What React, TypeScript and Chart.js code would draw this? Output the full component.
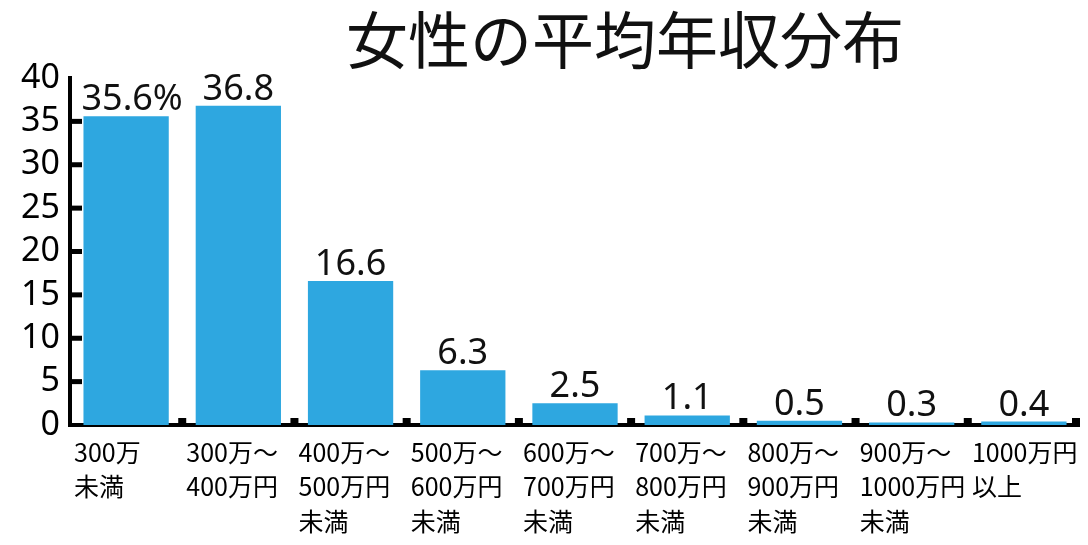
import React, { useEffect, useRef } from 'react';
import { Chart, registerables } from 'chart.js';

Chart.register(...registerables);

const title = '女性の平均年収分布';

const categories: string[][] = [
  ['300万', '未満'],
  ['300万～', '400万円'],
  ['400万～', '500万円', '未満'],
  ['500万～', '600万円', '未満'],
  ['600万～', '700万円', '未満'],
  ['700万～', '800万円', '未満'],
  ['800万～', '900万円', '未満'],
  ['900万～', '1000万円', '未満'],
  ['1000万円', '以上'],
];

const shares = [35.6, 36.8, 16.6, 6.3, 2.5, 1.1, 0.5, 0.3, 0.4];

const valueLabels = ['35.6%', '36.8', '16.6', '6.3', '2.5', '1.1', '0.5', '0.3', '0.4'];

const yTickValues = [0, 5, 10, 15, 20, 25, 30, 35, 40];

const BAR_COLOR = '#2ea7e0';
const CJK = '"Noto Sans CJK JP", "Noto Sans", sans-serif';

// title, value labels and the inward tick marks of both axes
const decorations = {
  id: 'decorations',
  afterDraw(chart: Chart) {
    const { ctx, chartArea } = chart;
    const x = chart.scales.x;
    const y = chart.scales.y;
    ctx.save();

    // title
    ctx.fillStyle = '#111';
    ctx.font = `62px ${CJK}`;
    ctx.textAlign = 'center';
    ctx.textBaseline = 'middle';
    ctx.fillText(title, (chartArea.left + chartArea.right) / 2 + 50, 32);

    // values above the bars
    ctx.font = '36px "Noto Sans", sans-serif';
    ctx.textBaseline = 'alphabetic';
    const meta = chart.getDatasetMeta(0);
    meta.data.forEach((bar: any, i: number) => {
      ctx.fillText(valueLabels[i], bar.x + (i === 0 ? 6 : 0), bar.y - 6);
    });

    // y ticks pointing into the plot
    ctx.fillStyle = '#000';
    yTickValues.forEach((v) => {
      if (v <= 0 || v >= 40) return;
      const py = y.getPixelForValue(v);
      ctx.fillRect(chartArea.left - 2, py - 2.5, 14, 5);
    });

    // x ticks between categories pointing up
    for (let i = 0; i < categories.length; i++) {
      const px = i < categories.length - 1
        ? (x.getPixelForValue(i) + x.getPixelForValue(i + 1)) / 2
        : chartArea.right - 4;
      ctx.fillRect(px - 4, chartArea.bottom - 7, 8, 7);
    }
    ctx.restore();
  },
};

const App: React.FC = () => {
  const canvasRef = useRef<HTMLCanvasElement>(null);
  const chartRef = useRef<Chart | null>(null);

  useEffect(() => {
    if (!canvasRef.current) return;
    if (chartRef.current) chartRef.current.destroy();

    chartRef.current = new Chart(canvasRef.current, {
      type: 'bar',
      data: {
        labels: categories,
        datasets: [
          {
            data: shares,
            backgroundColor: BAR_COLOR,
            borderWidth: 0,
            barPercentage: 0.76,
            categoryPercentage: 1,
          },
        ],
      },
      options: {
        responsive: true,
        maintainAspectRatio: false,
        animation: false,
        layout: { padding: { top: 70, right: 0, left: 0, bottom: 0 } },
        plugins: {
          legend: { display: false },
          tooltip: { enabled: false },
        },
        scales: {
          x: {
            grid: { display: false, drawTicks: false },
            border: { display: true, color: '#000', width: 4 },
            ticks: {
              autoSkip: false,
              maxRotation: 0,
              minRotation: 0,
              align: 'start',
              labelOffset: -52,
              padding: 10,
              color: '#000',
              font: { family: CJK, size: 25, lineHeight: 1.38 },
            },
            afterFit: (scale: any) => {
              scale.paddingLeft = 0;
              scale.paddingRight = 0;
              scale.height = 112;
            },
          },
          y: {
            min: 0,
            max: 40,
            grid: { display: false, drawTicks: false },
            border: { display: true, color: '#000', width: 4 },
            afterBuildTicks: (scale: any) => {
              scale.ticks = yTickValues.map((v) => ({ value: v }));
            },
            ticks: {
              autoSkip: false,
              padding: 10,
              color: '#000',
              font: { family: '"Noto Sans", sans-serif', size: 34 },
            },
            afterFit: (scale: any) => {
              scale.width = 62;
            },
          },
        },
      },
      plugins: [decorations],
    });

    return () => {
      if (chartRef.current) {
        chartRef.current.destroy();
        chartRef.current = null;
      }
    };
  }, []);

  return (
    <div style={{ position: 'relative', width: 1072, height: 529, background: '#fff' }}>
      <canvas ref={canvasRef} />
    </div>
  );
};

export default App;
